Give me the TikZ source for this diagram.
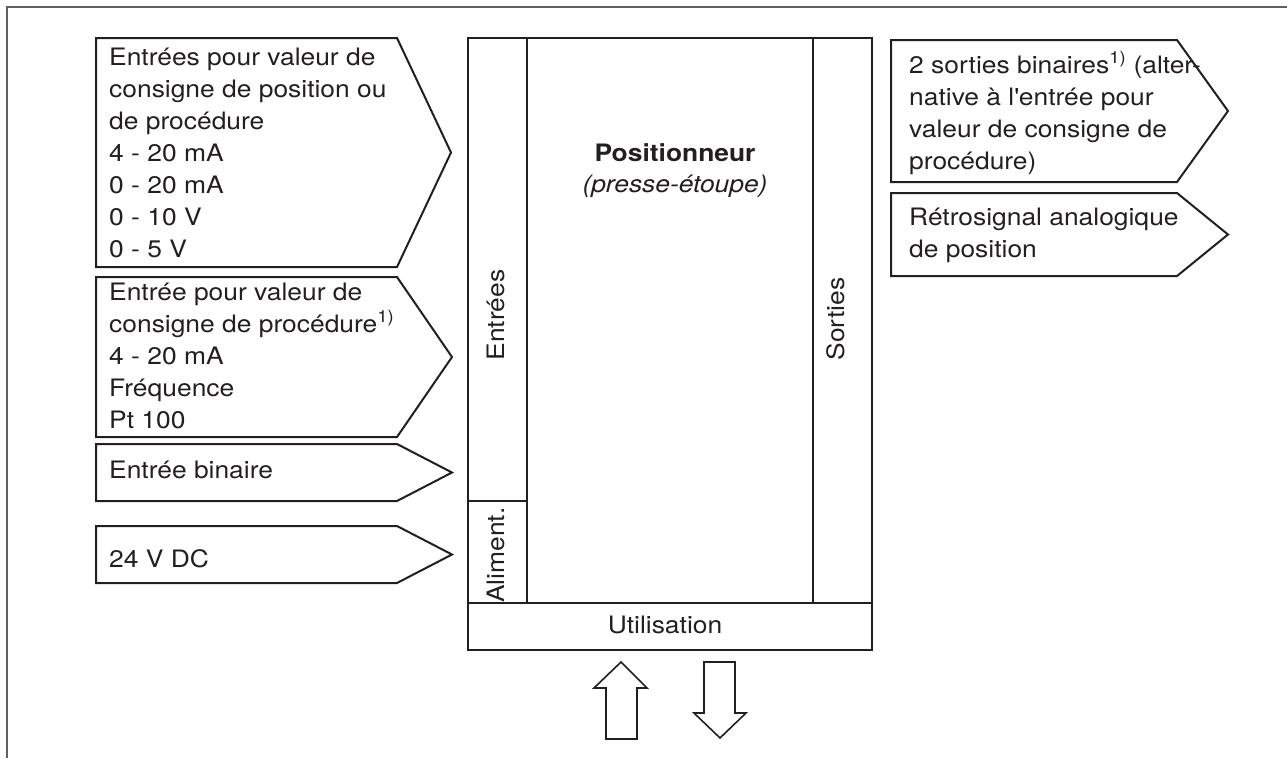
\documentclass[tikz,border=0pt]{standalone}
\usepackage{fontspec}
\setmainfont[FakeStretch=1.10]{TeX Gyre Heros}
\definecolor{ink}{RGB}{35,31,32}
\definecolor{framegray}{RGB}{95,95,95}
% pentagonal tag: left x, top y, notch x, bottom y, tip x
\newcommand\tagshape[5]{%
  \draw[tagline] (#1,#2) -- (#3,#2) -- (#5,{(#2+#4)/2}) -- (#3,#4) -- (#1,#4) -- cycle;}
\begin{document}
\begin{tikzpicture}[x=1pt,y=-1pt,
  tagline/.style={draw=ink,line width=2pt,line join=miter},
  boxline/.style={draw=ink,line width=2pt},
  arrowline/.style={draw=ink,line width=1.6pt,line join=miter},
  txt/.style={inner sep=0pt,text=ink,font=\fontsize{24}{32}\selectfont},
  block/.style={txt,anchor=base west,align=left}]
\useasboundingbox (0,0) rectangle (1287,758);

% outer frame (top and left edges)
\draw[framegray,line width=2.2pt] (7,758) -- (7,7) -- (1287,7);

% input tags
\tagshape{96}{38}{397}{267}{451}
\tagshape{96}{277}{397}{437}{452}
\tagshape{96}{444}{397}{501}{452}
\tagshape{96}{526}{397}{583}{452}

\node[block] (in1) at (109,65) {\parbox[t]{300pt}{Entrées pour valeur de\\consigne de position ou\\de procédure\\4 - 20 mA\\0 - 20 mA\\0 - 10 V\\0 - 5 V}};
\node[block] (in2) at (109,300) {\parbox[t]{300pt}{Entrée pour valeur de\\consigne de procédure\textsuperscript{1)}\\4 - 20 mA\\Fréquence\\Pt 100}};
\node[block] (in3) at (109,478) {Entrée binaire};
\node[block] (in4) at (109,567) {24 V DC};

% output tags
\tagshape{891}{40}{1177}{182}{1228}
\tagshape{891}{193}{1177}{276}{1228}

\node[block] (out1) at (909,73) {\parbox[t]{320pt}{2 sorties binaires\textsuperscript{1)} (alter-\\native à l\textquotesingle entrée pour\\valeur de consigne de\\procédure)}};
\node[block] (out2) at (909,225) {\parbox[t]{320pt}{Rétrosignal analogique\\de position}};

% positioner block
\draw[boxline] (468,38) rectangle (872,650);
\draw[boxline] (527,38) -- (527,603);
\draw[boxline] (813,38) -- (813,603);
\draw[boxline] (468,603) -- (872,603);
\draw[boxline] (468,501) -- (527,501);

\node[txt,anchor=base] (title) at (675,161) {\textbf{Positionneur}};
\node[txt,anchor=base] (sub) at (675,192) {\textit{(presse-étoupe)}};
\node[txt,rotate=90] (entrees) at (496,315) {Entrées};
\node[txt,rotate=90] (alim) at (496,555) {Aliment.};
\node[txt,rotate=90] (sorties) at (836,319) {Sorties};
\node[txt,anchor=base] (util) at (665,633) {Utilisation};

% operation arrows
\draw[arrowline] (606,739) -- (606,688) -- (594,688) -- (621,662) -- (647,688) -- (637,688) -- (637,739) -- cycle;
\draw[arrowline] (704,662) -- (735,662) -- (735,713) -- (746,713) -- (720,738) -- (694,713) -- (704,713) -- cycle;
\end{tikzpicture}
\end{document}
